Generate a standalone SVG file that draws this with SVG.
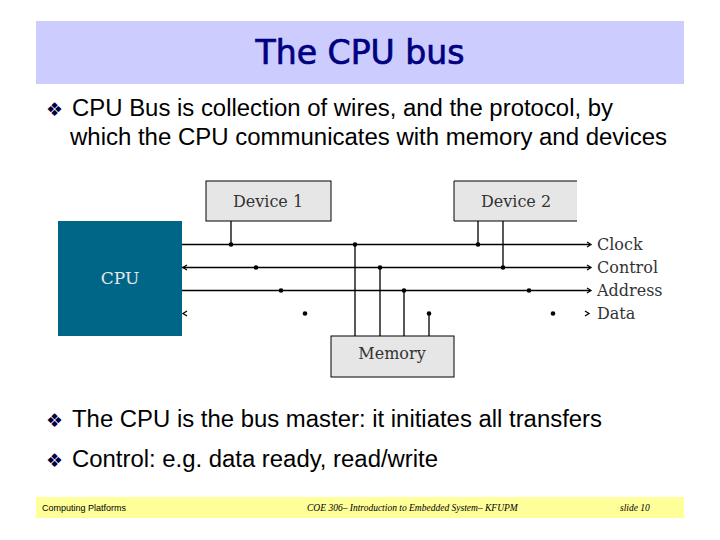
<svg xmlns="http://www.w3.org/2000/svg" width="720" height="540" viewBox="0 0 720 540">
<style>
.body{font-family:"Liberation Sans",Arial,sans-serif;font-size:23.5px;fill:#000}
.bul{font-family:"DejaVu Sans",sans-serif;font-size:19px;fill:#000040}
.lbl{font-family:"DejaVu Serif","Liberation Serif",serif;font-size:16px;fill:#333}
.box{fill:#E6E6E6;stroke:#000;stroke-width:1}
.wire{stroke:#000;stroke-width:1.3;fill:none}
.ah{stroke:#000;stroke-width:1.3;fill:none}
.foot{font-family:"Liberation Sans",Arial,sans-serif;font-size:9px;fill:#000}
.footi{font-family:"Liberation Serif",serif;font-size:9.5px;font-style:italic;fill:#000}
</style>
<rect width="720" height="540" fill="#fff"/>
<rect x="36" y="21" width="648" height="63" fill="#CCCCFF"/>
<text x="360" y="64" text-anchor="middle" font-family="'Comic Sans MS','DejaVu Sans',sans-serif" font-size="33" fill="#000080" stroke="#000080" stroke-width="0.7" textLength="209" lengthAdjust="spacingAndGlyphs">The CPU bus</text>
<text class="bul" x="46" y="116">❖</text>
<text class="body" x="72" y="116" textLength="541" lengthAdjust="spacingAndGlyphs">CPU Bus is collection of wires, and the protocol, by</text>
<text class="body" x="70" y="145" textLength="597" lengthAdjust="spacingAndGlyphs">which the CPU communicates with memory and devices</text>
<g id="cpu"><rect x="58" y="221" width="124" height="115" fill="#006688"/><text x="120" y="284" text-anchor="middle" font-family="'DejaVu Serif',serif" font-size="17" fill="#E8E8E8">CPU</text></g>
<g id="device1"><rect class="box" x="206" y="181" width="125" height="40"/><text class="lbl" x="268" y="207" text-anchor="middle">Device 1</text></g>
<g id="device2"><rect x="454" y="181" width="123" height="40" fill="#E6E6E6"/><path d="M577 181H454V221H577" fill="none" stroke="#000"/><text class="lbl" x="516" y="207" text-anchor="middle">Device 2</text></g>
<g id="memory"><rect class="box" x="331" y="336" width="123" height="41"/><text class="lbl" x="392" y="359" text-anchor="middle">Memory</text></g>
<g id="connectors">
<path class="wire" d="M182 244.5H590M182 267.5H590M182 290.5H590"/>
<path class="wire" d="M231 221V244.5M478 221V244.5M503 221V267.5M355 244.5V336M380 267.5V336M404 290.5V336M429 313.5V336"/>
<path class="ah" d="M587 242L591 244.5L587 247M587 265L591 267.5L587 270M587 288L591 290.5L587 293M585 311L589 313.5L585 316M187 265L183 267.5L187 270M187 311L183 313.5L187 316"/>
<g fill="#000">
<circle cx="231" cy="244.5" r="2.3"/><circle cx="355" cy="244.5" r="2.3"/><circle cx="478" cy="244.5" r="2.3"/>
<circle cx="256" cy="267.5" r="2.3"/><circle cx="380" cy="267.5" r="2.3"/><circle cx="503" cy="267.5" r="2.3"/>
<circle cx="281" cy="290.5" r="2.3"/><circle cx="404" cy="290.5" r="2.3"/><circle cx="529" cy="290.5" r="2.3"/>
<circle cx="305" cy="313.5" r="2.3"/><circle cx="429" cy="313.5" r="2.3"/><circle cx="553" cy="313.5" r="2.3"/>
</g>
</g>
<text class="lbl" x="597" y="250">Clock</text>
<text class="lbl" x="597" y="273">Control</text>
<text class="lbl" x="597" y="296">Address</text>
<text class="lbl" x="597" y="319">Data</text>
<text class="bul" x="46" y="427">❖</text>
<text class="body" x="72" y="427" textLength="530" lengthAdjust="spacingAndGlyphs">The CPU is the bus master: it initiates all transfers</text>
<text class="bul" x="46" y="467">❖</text>
<text class="body" x="72" y="467" textLength="366" lengthAdjust="spacingAndGlyphs">Control: e.g. data ready, read/write</text>
<rect x="36" y="497" width="648" height="21" fill="#FFFF99"/>
<text class="foot" x="42" y="511">Computing Platforms</text>
<text class="footi" x="307" y="511">COE 306– Introduction to Embedded System– KFUPM</text>
<text class="footi" x="620" y="511">slide 10</text>
</svg>
